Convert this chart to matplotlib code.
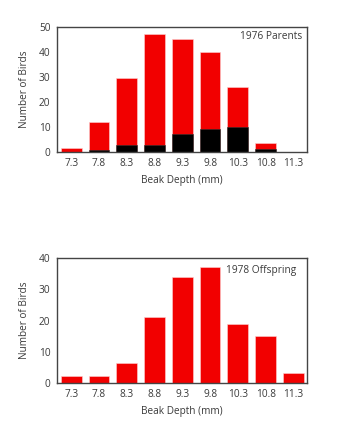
import matplotlib.pyplot as plt
import numpy as np

plt.rcParams['font.family'] = ['Open Sans', 'DejaVu Sans']

# Данные
depths = ["7.3", "7.8", "8.3", "8.8", "9.3", "9.8", "10.3", "10.8", "11.3"]
parents_total = [1.4, 12, 29.6, 47.2, 45.2, 40, 26.2, 3.4, 0]
parents_black = [0, 0.8, 2.8, 2.8, 7, 9.2, 10, 1.1, 0]
offspring = [2.2, 2.2, 6.2, 21, 34, 37.1, 18.9, 15, 3.1]

red = "#f20000"
text_col = "#3a3a3a"
spine_col = "#444444"

fig = plt.figure(figsize=(3.44, 4.24), dpi=100)
ax1 = fig.add_axes([0.1666, 0.6422, 0.7267, 0.2934])
ax2 = fig.add_axes([0.1666, 0.0974, 0.7267, 0.2934])

x = np.arange(len(depths))


def style(ax, ymax, step):
    ax.set_xlim(-0.5, 8.5)
    ax.set_ylim(0, ymax)
    ax.set_yticks(np.arange(0, ymax + 1, step))
    ax.set_xticks(x)
    ax.set_xticklabels(depths)
    ax.tick_params(length=0, labelsize=7.3, colors=text_col, pad=4.5)
    ax.tick_params(axis="y", pad=5)
    for s in ax.spines.values():
        s.set_color(spine_col)
        s.set_linewidth(1)
    ax.set_xlabel("Beak Depth (mm)", fontsize=7.2, color=text_col, labelpad=4)
    ax.set_ylabel("Number of Birds", fontsize=7.2, color=text_col, labelpad=6)


# 1976 родители
ax1.bar(x, parents_total, width=0.75, color=red, edgecolor="#ffd0d0", linewidth=0.4)
ax1.bar(x, parents_black, width=0.75, color="black", edgecolor="#333333", linewidth=0.4)
style(ax1, 50, 10)
ax1.text(0.978, 0.93, "1976 Parents", transform=ax1.transAxes, ha="right", va="center",
         fontsize=7.3, color=text_col)

# 1978 потомство
ax2.bar(x, offspring, width=0.75, color=red, edgecolor="#ffd0d0", linewidth=0.4)
style(ax2, 40, 10)
ax2.text(0.955, 0.898, "1978 Offspring", transform=ax2.transAxes, ha="right", va="center",
         fontsize=7.3, color=text_col)

fig.savefig("out.png", dpi=100)
